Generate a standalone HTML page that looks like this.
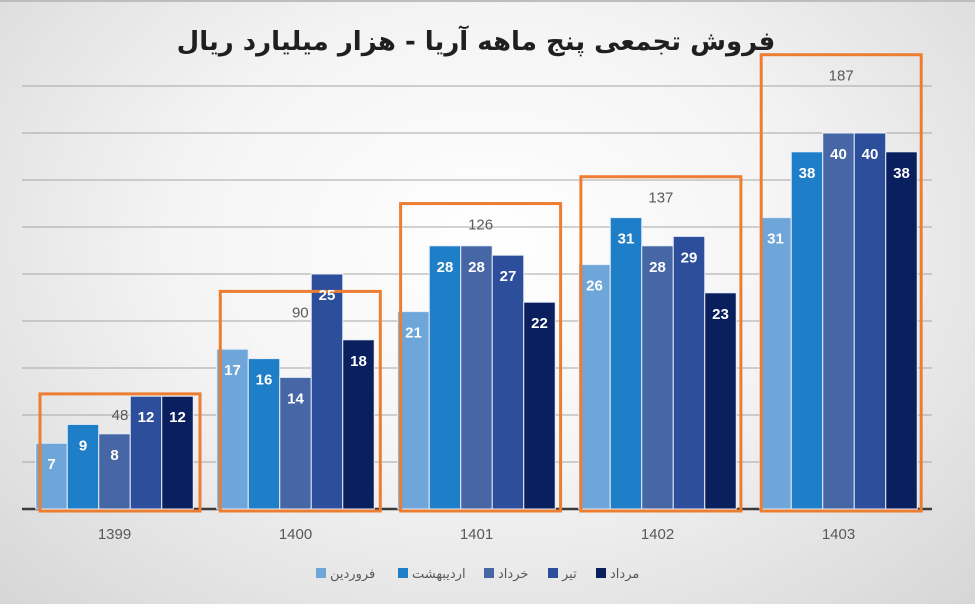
<!DOCTYPE html>
<html><head><meta charset="utf-8">
<style>
html,body{margin:0;padding:0;}
body{width:975px;height:604px;overflow:hidden;background:radial-gradient(ellipse at 50% 40%,#ffffff 0%,#f4f4f4 45%,#d6d6d6 100%);font-family:"Liberation Sans","DejaVu Sans",sans-serif;}
#chart{position:absolute;left:0;top:0;}
</style></head>
<body>
<svg id="chart" width="975" height="604" xmlns="http://www.w3.org/2000/svg">
<rect x="0" y="0" width="975" height="2" fill="#bdbdbd"/>
<text x="476" y="50" text-anchor="middle" font-family="DejaVu Sans, sans-serif" font-weight="bold" font-size="26" fill="#1f1f1f">فروش تجمعی پنج ماهه آریا - هزار میلیارد ریال</text>
<g id="grid"></g>
<g id="bars"></g>
<g id="boxes"></g>
<g id="labels"></g>
<g id="legend"></g>
</svg>
<script>
const categories = ["1399","1400","1401","1402","1403"];
const seriesNames = ["فروردین","اردیبهشت","خرداد","تیر","مرداد"];
const farvardin = [7,17,21,26,31];
const ordibehesht = [9,16,28,31,38];
const khordad = [8,14,28,28,40];
const tir = [12,25,27,29,40];
const mordad = [12,18,22,23,38];
const totals = [48,90,126,137,187];
const gridTicks = [0,5,10,15,20,25,30,35,40,45];

const series = [farvardin, ordibehesht, khordad, tir, mordad];
const colors = ["#6fa6da","#1f7ec8","#4766a6","#2d4f9b","#0a1f5e"];
const NS = "http://www.w3.org/2000/svg";
const plotL = 22, plotR = 927, baseY = 509, pxPerUnit = 9.4, boxScale = 2.44;
const catW = (plotR - plotL) / categories.length;
const barW = 31.5;
function y(v){ return baseY - v * pxPerUnit; }
function catX(i){ return plotL + catW * i; }
function mk(tag, attrs, parent){ const e = document.createElementNS(NS, tag); for (const k in attrs) e.setAttribute(k, attrs[k]); parent.appendChild(e); return e; }

const grid = document.getElementById('grid');
gridTicks.forEach((t) => {
  if (t === 0) return;
  const l = mk('line', {x1: 22, x2: 932, y1: y(t), y2: y(t), stroke: "#a6a6a6", "stroke-width": 1}, grid);
  
  
});

const bars = document.getElementById('bars');
const labels = document.getElementById('labels');
categories.forEach((c, ci) => {
  const gx = catX(ci) + (catW - barW * 5) / 2 + 2;
  series.forEach((s, si) => {
    const v = s[ci];
    const r = mk('rect', {x: gx + si * barW, y: y(v), width: barW, height: baseY - y(v), fill: colors[si], stroke: "#e8eef7", "stroke-width": 1}, bars);
    
    
    const t = mk('text', {x: gx + si * barW + barW / 2, y: y(v) + 26, "text-anchor": "middle", "font-size": 15, "font-weight": "bold", fill: "#ffffff"}, labels);
    t.textContent = v;
    
    
  });
  const cl = mk('text', {x: catX(ci) + catW / 2 + 2, y: 539, "text-anchor": "middle", "font-size": 15, fill: "#595959"}, labels);
  cl.textContent = c;
  
  
});
const axis = mk('line', {x1: 22, x2: 932, y1: baseY, y2: baseY, stroke: "#3a3a3a", "stroke-width": 2.5}, grid);



const boxes = document.getElementById('boxes');
totals.forEach((tv, ci) => {
  const bx = 40 + 180.3 * ci;
  const top = 511 - tv * boxScale;
  const b = mk('rect', {x: bx, y: top, width: 160, height: 511 - top, fill: "none", stroke: "#ed7d31", "stroke-width": 3}, boxes);
  
  
  const t = mk('text', {x: bx + 80, y: top + 26, "text-anchor": "middle", "font-size": 15, fill: "#595959"}, boxes);
  t.textContent = tv;
  
  
});

const legend = document.getElementById('legend');
const legX = [316, 398, 484, 548, 596];
seriesNames.forEach((n, i) => {
  const g = mk('g', {}, legend);
  
  
  mk('rect', {x: legX[i], y: 568, width: 10, height: 10, fill: colors[i]}, g);
  const t = mk('text', {x: legX[i] + 14, y: 578, "font-size": 13, fill: "#595959", "font-family": "DejaVu Sans, sans-serif", "text-anchor": "start"}, g);
  t.textContent = n;
});
</script>
</body></html>
